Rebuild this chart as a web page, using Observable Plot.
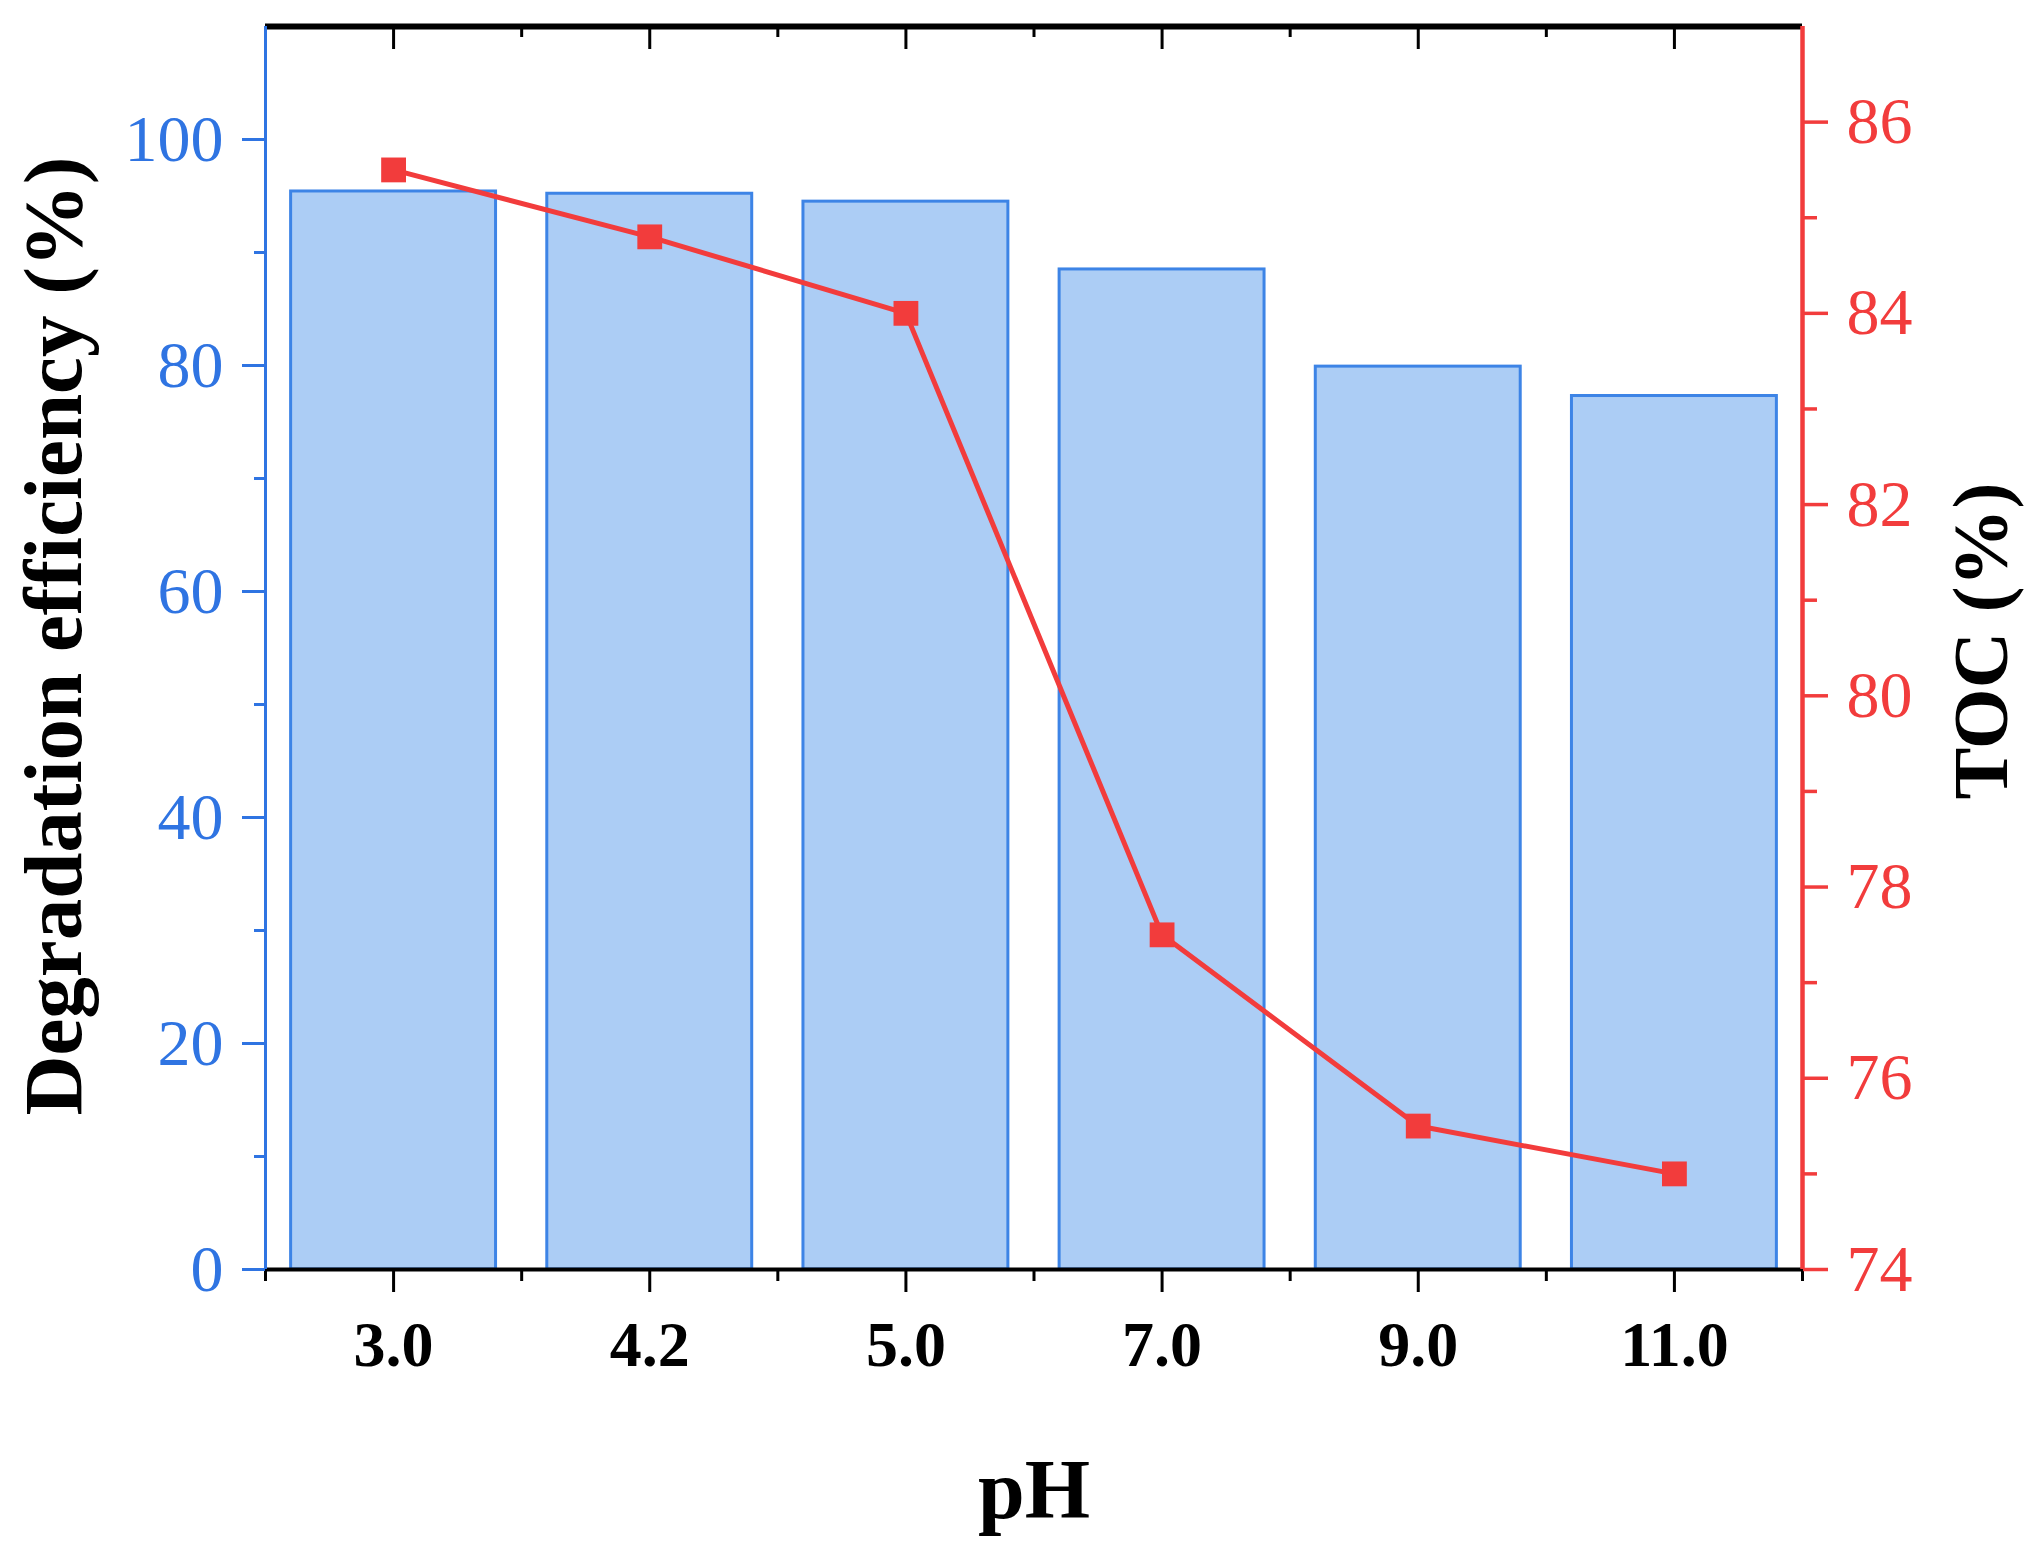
<!DOCTYPE html>
<html>
<head>
<meta charset="utf-8">
<script src="https://cdn.jsdelivr.net/npm/d3@7"></script>
<script src="https://cdn.jsdelivr.net/npm/@observablehq/plot@0.6"></script>
<style>
  html, body { margin: 0; padding: 0; background: white; }
</style>
</head>
<body>
<div id="chart"></div>
<script>
const pH = ["3.0", "4.2", "5.0", "7.0", "9.0", "11.0"];
const degradation = [95.4, 95.2, 94.5, 88.5, 79.9, 77.3];
const toc = [85.5, 84.8, 84.0, 77.5, 75.5, 75.0];

const degDomain = [0, 110];
const tocDomain = [74, 87];
const degTicks = [0, 20, 40, 60, 80, 100];
const degMinorTicks = [10, 30, 50, 70, 90];
const tocTicks = [74, 76, 78, 80, 82, 84, 86];
const tocMinorTicks = [75, 77, 79, 81, 83, 85];
const xPositions = [1, 2, 3, 4, 5, 6];
const xMinorPositions = [0.5, 1.5, 2.5, 3.5, 4.5, 5.5, 6.5];
const xDomain = [0.5, 6.5];

const blue = "#2f74e2";
const barFill = "#accdf5";
const barStroke = "#3d84e6";
const red = "#f23c3c";

const tocToY = d3.scaleLinear(tocDomain, degDomain);
const data = pH.map((p, i) => ({pos: xPositions[i], p, deg: degradation[i], toc: toc[i], tocY: tocToY(toc[i])}));

const serif = '"Liberation Serif", "Times New Roman", serif';
const blank = () => "";

const chart = Plot.plot({
  width: 2030,
  height: 1555,
  marginTop: 26,
  marginRight: 228,
  marginBottom: 286,
  marginLeft: 265,
  x: {domain: xDomain, axis: null, label: null},
  y: {domain: degDomain, axis: null, label: null},
  style: {fontFamily: serif, background: "white", overflow: "visible"},
  marks: [
    Plot.rectY(data, {x1: d => d.pos - 0.4, x2: d => d.pos + 0.4, y: "deg", fill: barFill, stroke: barStroke, strokeWidth: 3}),
    Plot.line(data, {x: "pos", y: "tocY", stroke: red, strokeWidth: 5}),
    Plot.dot(data, {x: "pos", y: "tocY", symbol: "square", r: 14, fill: red, stroke: "none"}),
    Plot.ruleY([degDomain[1]], {stroke: "black", strokeWidth: 6}),
    Plot.ruleY([degDomain[0]], {stroke: "black", strokeWidth: 4}),
    // bottom x axis
    Plot.axisX(xPositions, {anchor: "bottom", label: null, tickSize: 23, tickPadding: 28, tickFormat: d => pH[d - 1],
      color: "black", strokeWidth: 3, fontSize: 64, fontWeight: "bold", fontFamily: serif}),
    Plot.axisX(xMinorPositions, {anchor: "bottom", label: null, tickSize: 12, tickFormat: blank, color: "black", strokeWidth: 3}),
    // top x axis (inward ticks)
    Plot.axisX(xPositions, {anchor: "top", label: null, tickSize: -22, tickFormat: blank, color: "black", strokeWidth: 3}),
    Plot.axisX(xMinorPositions, {anchor: "top", label: null, tickSize: -10, tickFormat: blank, color: "black", strokeWidth: 3}),
    // left y axis
    Plot.axisY(degTicks, {anchor: "left", label: null, tickSize: 23, tickPadding: 19, color: blue, strokeWidth: 3,
      fontSize: 66, fontFamily: serif}),
    Plot.axisY(degMinorTicks, {anchor: "left", label: null, tickSize: 11, tickFormat: blank, color: blue, strokeWidth: 3}),
    // right y axis (TOC)
    Plot.axisY(tocTicks.map(tocToY), {anchor: "right", label: null, tickSize: 25, tickPadding: 19, color: red, strokeWidth: 3.5,
      tickFormat: d => String(Math.round(tocToY.invert(d))), fontSize: 66, fontFamily: serif}),
    Plot.axisY(tocMinorTicks.map(tocToY), {anchor: "right", label: null, tickSize: 14, tickFormat: blank, color: red, strokeWidth: 3.5}),
    Plot.ruleX([xDomain[0]], {stroke: blue, strokeWidth: 3}),
    Plot.ruleX([xDomain[1]], {stroke: red, strokeWidth: 4.5}),
    // titles
    Plot.text(["Degradation efficiency (%)"], {frameAnchor: "left", textAnchor: "middle", rotate: -90, dx: -211, dy: -12,
      fontSize: 83, fontWeight: "bold", fill: "black", fontFamily: serif}),
    Plot.text(["TOC (%)"], {frameAnchor: "right", textAnchor: "middle", rotate: -90, dx: 180, dy: -7,
      fontSize: 78, fontWeight: "bold", fill: "black", fontFamily: serif}),
    Plot.text(["pH"], {frameAnchor: "bottom", dy: 248, fontSize: 84, fontWeight: "bold", fill: "black", fontFamily: serif})
  ]
});
document.getElementById("chart").appendChild(chart);
</script>
</body>
</html>
